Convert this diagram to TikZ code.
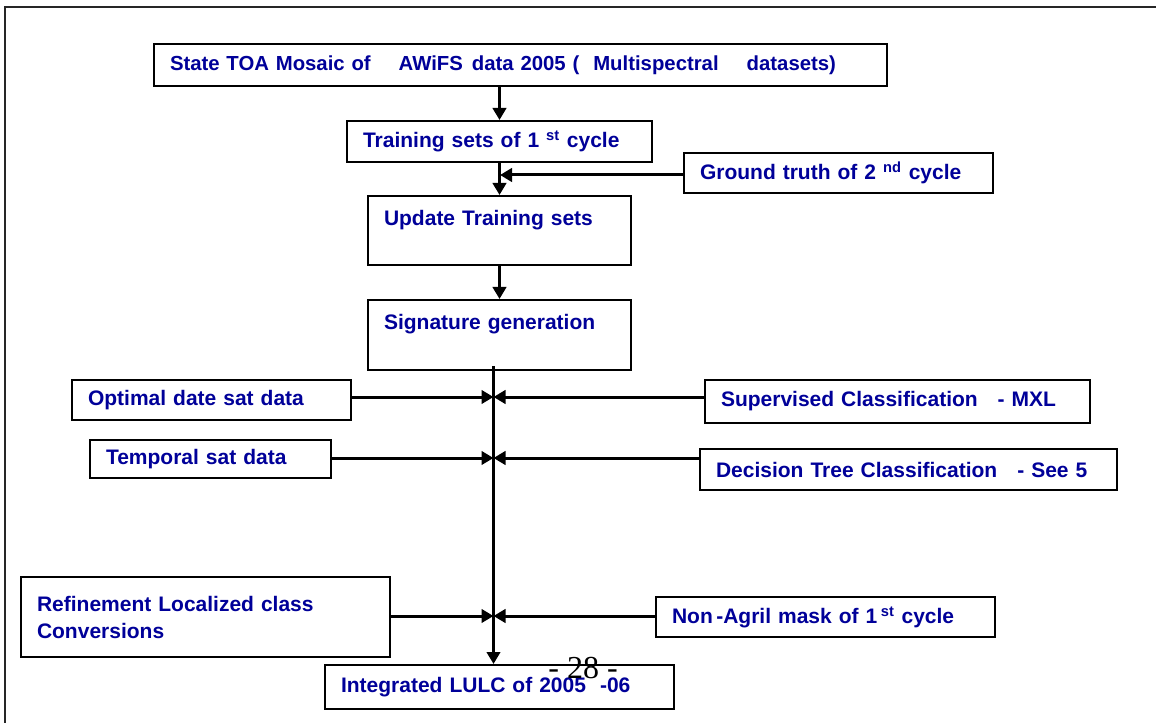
\documentclass[tikz,border=0pt]{standalone}
\usepackage{fontspec}
\setmainfont{Liberation Sans}
\newfontfamily\pagefont{Liberation Serif}
\usetikzlibrary{arrows.meta}
\newlength\px
\setlength\px{0.75pt}
\definecolor{labelblue}{RGB}{0,0,153}

\begin{document}
\begin{tikzpicture}[x=0.75pt,y=-0.75pt,
  boxn/.style={draw=black, line width=2\px, fill=white, anchor=north west,
    inner xsep=16\px, inner ysep=0pt, align=left, text=labelblue,
    font=\fontsize{15.75pt}{19pt}\selectfont\bfseries},
  conn/.style={line width=3\px, -{Triangle[length=9pt,width=10pt]}},
  ]
\useasboundingbox (0,0) rectangle (1156,723);

% outer frame (only its top and left sides fall on the page)
\draw[line width=2\px, black!85] (5,723) -- (5,7) -- (1156,7);

% main column
\node[boxn, text width=701\px, minimum height=42\px,
      font=\fontsize{15.25pt}{18pt}\selectfont\bfseries] (toa) at (153,43)
  {State TOA Mosaic of\hspace{28\px}AWiFS\hspace{9\px}data 2005 (\hspace{14\px}Multispectral\hspace{28\px}datasets)};
\node[boxn, text width=273\px, minimum height=41\px] (train) at (346,120)
  {Training sets of 1 \textsuperscript{st} cycle};
\node[boxn, text width=277\px, minimum height=40\px] (ground) at (683,152)
  {Ground truth of 2 \textsuperscript{nd} cycle};
\node[boxn, text width=231\px, minimum height=69\px] (update) at (367,195)
  {Update Training sets\\ ~};
\node[boxn, text width=231\px, minimum height=70\px] (sig) at (367,299)
  {Signature generation\\ ~};

% inputs on the left
\node[boxn, text width=247\px, minimum height=40\px] (opt) at (71,379)
  {Optimal date sat data};
\node[boxn, text width=209\px, minimum height=38\px] (temp) at (89,439)
  {Temporal sat data};
\node[boxn, text width=337\px, minimum height=80\px,
      font=\fontsize{15.75pt}{20.25pt}\selectfont\bfseries] (refine) at (20,576)
  {Refinement Localized class\\Conversions};

% inputs on the right
\node[boxn, text width=353\px, minimum height=43\px] (sup) at (704,379)
  {Supervised Classification\hspace{20\px}- MXL};
\node[boxn, text width=385\px, minimum height=41\px] (dec) at (699,448)
  {Decision Tree Classification\hspace{20\px}- See 5};
\node[boxn, text width=307\px, minimum height=40\px] (nonag) at (655,596)
  {Non\,-Agril mask of 1\,\textsuperscript{st} cycle};

% result
\node[boxn, text width=317\px, minimum height=44\px] (integ) at (324,664)
  {Integrated LULC of 2005\hspace{14\px}-06};

% junction points on the vertical spine
\coordinate (gj) at (500,175);
\coordinate (spine) at (493.5,366);
\coordinate (j1) at (493.5,397);
\coordinate (j2) at (493.5,458);
\coordinate (j3) at (493.5,616);

% connectors
\draw[conn] (toa.south -| train.north) -- (train.north);
\draw[conn] (train.south) -- (update.north);
\draw[conn] (ground.west |- gj) -- (gj);
\draw[conn] (update.south) -- (sig.north);
\draw[conn] (spine) -- (spine |- integ.north);

\draw[conn] (opt.east |- j1) -- (j1);
\draw[conn] (sup.west |- j1) -- (j1);
\draw[conn] (temp.east |- j2) -- (j2);
\draw[conn] (dec.west |- j2) -- (j2);
\draw[conn] (refine.east |- j3) -- (j3);
\draw[conn] (nonag.west |- j3) -- (j3);

% page number printed over the last box
\node[font=\pagefont\fontsize{24pt}{24pt}\selectfont, text=black, inner sep=0pt]
  (pagenum) at (583,668) {- 28 -};
\end{tikzpicture}
\end{document}
